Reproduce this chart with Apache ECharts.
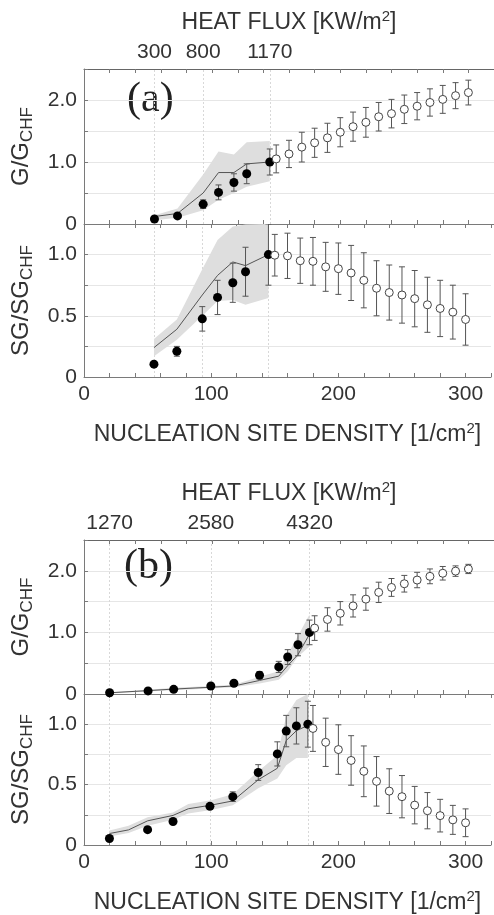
<!DOCTYPE html>
<html>
<head>
<meta charset="utf-8">
<script src="https://cdn.jsdelivr.net/npm/echarts@6/dist/echarts.min.js"></script>
<style>
html,body{margin:0;padding:0;background:#fff;}
#chart{width:494px;height:915px;}
</style>
</head>
<body>
<div id="chart"></div>
<script>
// ---------------- DATA ----------------
// Panel (a)
const xA_fill   = [55, 73, 93, 105, 117, 127, 145];
const gA_fill   = [0.08, 0.13, 0.32, 0.51, 0.67, 0.81, 1.0];
const gA_ferr   = [0.02, 0.03, 0.07, 0.12, 0.14, 0.16, 0.21];
const gA_model  = [0.12, 0.17, 0.5, 0.83, 0.83, 0.97, 1.0];
const gA_bandHi = [0.14, 0.25, 0.8, 1.17, 1.12, 1.32, 1.34];
const gA_bandLo = [0.06, 0.10, 0.22, 0.39, 0.50, 0.60, 0.69];
const sgA_fill   = [0.105, 0.21, 0.475, 0.65, 0.77, 0.86, 1.0];
const sgA_ferr   = [0.01, 0.04, 0.10, 0.14, 0.16, 0.20, 0.25];
const sgA_model  = [0.24, 0.39, 0.67, 0.83, 0.94, 0.91, 1.0];
const sgA_bandHi = [0.31, 0.47, 0.88, 1.12, 1.23, 1.245, 1.25];
const sgA_bandLo = [0.17, 0.305, 0.5, 0.62, 0.63, 0.59, 0.645];
const xA_open   = [150,160,170,180,190,200,210,220,230,240,250,260,270,280,290,300];
const gA_open   = [1.05,1.13,1.24,1.31,1.39,1.48,1.57,1.64,1.73,1.78,1.85,1.90,1.96,2.01,2.07,2.12];
const gA_oerr   = [0.225,0.22,0.24,0.235,0.235,0.235,0.235,0.24,0.23,0.23,0.23,0.22,0.22,0.225,0.21,0.2];
const sgA_open  = [0.995,0.99,0.95,0.945,0.90,0.885,0.85,0.79,0.725,0.69,0.67,0.64,0.59,0.56,0.53,0.47];
const sgA_oerr  = [0.17,0.185,0.185,0.195,0.2,0.21,0.225,0.225,0.225,0.225,0.23,0.23,0.225,0.23,0.22,0.21];
const heatA_pos = [55, 93, 145];
const heatA_lab = ['300', '800', '1170'];

// Panel (b)
const xB_fill   = [20, 50, 70, 99, 117, 137, 152, 159, 167, 176];
const gB_fill   = [0.02, 0.05, 0.076, 0.13, 0.174, 0.305, 0.44, 0.60, 0.80, 1.0];
const gB_ferr   = [0.01, 0.01, 0.01, 0.02, 0.03, 0.06, 0.09, 0.12, 0.18, 0.2];
const gB_model  = [0.02, 0.055, 0.08, 0.11, 0.13, 0.22, 0.29, 0.46, 0.64, 0.97];
const gB_bandHi = [0.03, 0.07, 0.10, 0.13, 0.15, 0.28, 0.37, 0.64, 0.94, 1.29];
const gB_bandLo = [0.01, 0.04, 0.06, 0.09, 0.11, 0.17, 0.23, 0.37, 0.61, 0.77];
const sgB_fill  = [0.054, 0.127, 0.195, 0.32, 0.40, 0.60, 0.754, 0.943, 0.986, 1.0];
const sgB_ferr  = [0.01, 0.01, 0.01, 0.02, 0.04, 0.065, 0.10, 0.13, 0.15, 0.19];
const xB_sgModel  = [20, 35, 50, 70, 82, 100, 117, 137, 152, 159, 167, 176];
const sgB_model   = [0.095, 0.125, 0.2, 0.245, 0.3, 0.33, 0.365, 0.54, 0.635, 0.865, 0.946, 0.99];
const sgB_bandHi  = [0.12, 0.16, 0.23, 0.27, 0.34, 0.37, 0.42, 0.61, 0.74, 1.07, 1.2, 1.25];
const sgB_bandLo  = [0.07, 0.10, 0.16, 0.21, 0.26, 0.29, 0.33, 0.47, 0.55, 0.66, 0.72, 0.72];
const xB_open   = [180,190,200,210,220,230,240,250,260,270,280,290,300];
const gB_open   = [1.07,1.21,1.31,1.43,1.54,1.65,1.73,1.79,1.85,1.91,1.96,1.995,2.03];
const gB_oerr   = [0.2,0.19,0.19,0.18,0.18,0.165,0.145,0.135,0.125,0.12,0.11,0.085,0.075];
const sgB_open  = [0.965,0.85,0.79,0.70,0.61,0.527,0.446,0.40,0.33,0.284,0.243,0.208,0.184];
const sgB_oerr  = [0.19,0.2,0.205,0.205,0.21,0.205,0.185,0.175,0.155,0.15,0.135,0.12,0.115];
const heatB_pos = [20, 99, 176];
const heatB_lab = ['1270', '2580', '4320'];

const xTicks = [0,20,40,60,80,100,120,140,160,180,200,220,240,260,280,300,320];

// ---------------- CHART ----------------
const FONT = "'Liberation Sans', Arial, Helvetica, sans-serif";
const TXT = '#333';
const AX = '#7a7a7a';
const chart = echarts.init(document.getElementById('chart'), null, {renderer: 'canvas'});

const grids = [
  {left: 84, top: 69,  width: 410, height: 155},
  {left: 84, top: 224, width: 410, height: 153},
  {left: 84, top: 540, width: 410, height: 154},
  {left: 84, top: 694, width: 410, height: 154.3}
];

const titleRich = {
  t: {fontFamily: FONT, fontSize: 23, color: TXT},
  s: {fontFamily: FONT, fontSize: 15, color: TXT, padding: [0, 0, 12, 0]}
};

function xBottom(gi, showLabels) {
  return {
    type: 'value', gridIndex: gi, position: 'bottom', min: 0, max: 320, interval: 20,
    axisLine: {show: true, lineStyle: {color: AX, width: 1}},
    axisTick: {show: true, inside: true, length: 4, lineStyle: {color: AX}},
    axisLabel: {show: showLabels, margin: 7, fontFamily: FONT, fontSize: 21, color: TXT,
      formatter: v => (v % 100 === 0 && v <= 300) ? String(v) : ''},
    splitLine: {show: false},
    name: showLabels ? '{t|NUCLEATION SITE DENSITY [1/cm}{s|2}{t|]}' : '',
    nameLocation: 'middle', nameGap: 44,
    nameTextStyle: {fontFamily: FONT, fontSize: 23, color: TXT, rich: titleRich}
  };
}
function xTopTicks(gi) {
  return {
    type: 'value', gridIndex: gi, position: 'top', min: 0, max: 320, interval: 20,
    axisLine: {show: false},
    axisTick: {show: true, inside: true, length: 4, lineStyle: {color: AX}},
    axisLabel: {show: false}, splitLine: {show: false}
  };
}
function xHeat(gi, pos, lab) {
  return {
    type: 'value', gridIndex: gi, position: 'top', min: 0, max: 320, interval: 20,
    axisLine: {show: true, lineStyle: {color: '#666', width: 1}},
    axisTick: {show: true, inside: true, length: 4, lineStyle: {color: AX}, customValues: xTicks},
    axisLabel: {show: true, margin: 6, fontFamily: FONT, fontSize: 21, color: TXT,
      customValues: pos,
      formatter: v => { const i = pos.indexOf(v); return i >= 0 ? lab[i] : ''; }},
    splitLine: {show: false},
    name: '{t|HEAT FLUX [KW/m}{s|2}{t|]}', nameLocation: 'middle', nameGap: 33,
    nameTextStyle: {fontFamily: FONT, fontSize: 23, color: TXT, rich: titleRich}
  };
}
function yAxis(gi, max, interval, labels, nameMain) {
  return {
    type: 'value', gridIndex: gi, min: 0, max: max, interval: interval,
    axisLine: {show: true, lineStyle: {color: AX, width: 1}},
    axisTick: {show: true, inside: true, length: 4, lineStyle: {color: AX}},
    axisLabel: {margin: 7, fontFamily: FONT, fontSize: 21, color: TXT,
      formatter: v => { for (const k in labels) { if (Math.abs(v - Number(k)) < 1e-6) return labels[k]; } return ''; }},
    splitLine: {show: true, lineStyle: {color: '#e6e6e6', width: 1}},
    name: '{a|' + nameMain + '}{b|CHF}', nameLocation: 'middle', nameGap: 48, nameRotate: 90,
    nameTextStyle: {fontFamily: FONT, color: TXT,
      rich: {a: {fontFamily: FONT, fontSize: 24, color: TXT},
             b: {fontFamily: FONT, fontSize: 17, color: TXT, padding: [13, 0, 0, 0]}}}
  };
}

const xAxes = [
  xBottom(0, false),                // 0 : A1 bottom
  xHeat(0, heatA_pos, heatA_lab),   // 1 : A1 top heat flux
  xBottom(1, true),                 // 2 : A2 bottom
  xTopTicks(1),                     // 3 : A2 top ticks
  xBottom(2, false),                // 4 : B1 bottom
  xHeat(2, heatB_pos, heatB_lab),   // 5 : B1 top heat flux
  xBottom(3, true),                 // 6 : B2 bottom
  xTopTicks(3)                      // 7 : B2 top ticks
];
const gridX = [0, 2, 4, 6];

const yAxes = [
  yAxis(0, 2.5, 0.5, {0: '0', 1: '1.0', 2: '2.0'}, 'G/G'),
  yAxis(1, 1.25, 0.25, {0: '0', 0.5: '0.5', 1: '1.0'}, 'SG/SG'),
  yAxis(2, 2.5, 0.5, {0: '0', 1: '1.0', 2: '2.0'}, 'G/G'),
  yAxis(3, 1.25, 0.25, {0: '0', 0.5: '0.5', 1: '1.0'}, 'SG/SG')
];

function bandSeries(gi, xs, lo, hi, heatPos) {
  return {
    type: 'custom', xAxisIndex: gridX[gi], yAxisIndex: gi, z: 1, silent: true, clip: true,
    data: [[xs[0], lo[0]]],
    renderItem: function (params, api) {
      const pts = [];
      for (let i = 0; i < xs.length; i++) pts.push(api.coord([xs[i], hi[i]]));
      for (let i = xs.length - 1; i >= 0; i--) pts.push(api.coord([xs[i], lo[i]]));
      return {type: 'polygon', shape: {points: pts}, style: {fill: '#dedede'}};
    },
    markLine: {
      silent: true, symbol: 'none', label: {show: false}, z: 0,
      lineStyle: {color: '#d8d8d8', type: [2, 2], width: 1},
      data: heatPos.map(p => ({xAxis: p}))
    }
  };
}
function lineSeries(gi, xs, ys) {
  return {
    type: 'line', xAxisIndex: gridX[gi], yAxisIndex: gi, z: 2, silent: true,
    data: xs.map((x, i) => [x, ys[i]]), showSymbol: false, symbol: 'none',
    lineStyle: {color: '#555', width: 1}
  };
}
function errSeries(gi, xs, ys, es) {
  return {
    type: 'custom', xAxisIndex: gridX[gi], yAxisIndex: gi, z: 3, silent: true, clip: true,
    data: xs.map((x, i) => [x, ys[i] - es[i], ys[i] + es[i]]),
    encode: {x: 0, y: [1, 2]},
    renderItem: function (params, api) {
      const x = api.value(0);
      const lo = api.coord([x, api.value(1)]);
      const hi = api.coord([x, api.value(2)]);
      const w = 3;
      const st = {stroke: '#555', lineWidth: 1, fill: null};
      return {type: 'group', children: [
        {type: 'line', shape: {x1: lo[0], y1: lo[1], x2: hi[0], y2: hi[1]}, style: st},
        {type: 'line', shape: {x1: lo[0] - w, y1: lo[1], x2: lo[0] + w, y2: lo[1]}, style: st},
        {type: 'line', shape: {x1: hi[0] - w, y1: hi[1], x2: hi[0] + w, y2: hi[1]}, style: st}
      ]};
    }
  };
}
function pointSeries(gi, xs, ys, filled) {
  return {
    type: 'scatter', xAxisIndex: gridX[gi], yAxisIndex: gi, z: 4, silent: true,
    data: xs.map((x, i) => [x, ys[i]]),
    symbol: 'circle', symbolSize: filled ? 9 : 8,
    itemStyle: filled ? {color: '#000', opacity: 1} : {color: '#fff', borderColor: '#444', borderWidth: 1, opacity: 1}
  };
}

const series = [
  bandSeries(0, xA_fill, gA_bandLo, gA_bandHi, heatA_pos),
  lineSeries(0, xA_fill, gA_model),
  errSeries(0, xA_fill, gA_fill, gA_ferr),
  errSeries(0, xA_open, gA_open, gA_oerr),
  pointSeries(0, xA_fill, gA_fill, true),
  pointSeries(0, xA_open, gA_open, false),
  bandSeries(1, xA_fill, sgA_bandLo, sgA_bandHi, heatA_pos),
  lineSeries(1, xA_fill, sgA_model),
  errSeries(1, xA_fill, sgA_fill, sgA_ferr),
  errSeries(1, xA_open, sgA_open, sgA_oerr),
  pointSeries(1, xA_fill, sgA_fill, true),
  pointSeries(1, xA_open, sgA_open, false),
  bandSeries(2, xB_fill, gB_bandLo, gB_bandHi, heatB_pos),
  lineSeries(2, xB_fill, gB_model),
  errSeries(2, xB_fill, gB_fill, gB_ferr),
  errSeries(2, xB_open, gB_open, gB_oerr),
  pointSeries(2, xB_fill, gB_fill, true),
  pointSeries(2, xB_open, gB_open, false),
  bandSeries(3, xB_sgModel, sgB_bandLo, sgB_bandHi, heatB_pos),
  lineSeries(3, xB_sgModel, sgB_model),
  errSeries(3, xB_fill, sgB_fill, sgB_ferr),
  errSeries(3, xB_open, sgB_open, sgB_oerr),
  pointSeries(3, xB_fill, sgB_fill, true),
  pointSeries(3, xB_open, sgB_open, false)
];

chart.setOption({
  animation: false,
  backgroundColor: '#fff',
  grid: grids,
  xAxis: xAxes,
  yAxis: yAxes,
  series: series,
  graphic: [
    {type: 'text', left: 127, top: 79, silent: true,
     style: {text: '(a)', fontFamily: "'Liberation Serif', 'Times New Roman', serif", fontSize: 42, fill: '#222'}},
    {type: 'text', left: 124, top: 546, silent: true,
     style: {text: '(b)', fontFamily: "'Liberation Serif', 'Times New Roman', serif", fontSize: 42, fill: '#222'}}
  ]
});
</script>
</body>
</html>
